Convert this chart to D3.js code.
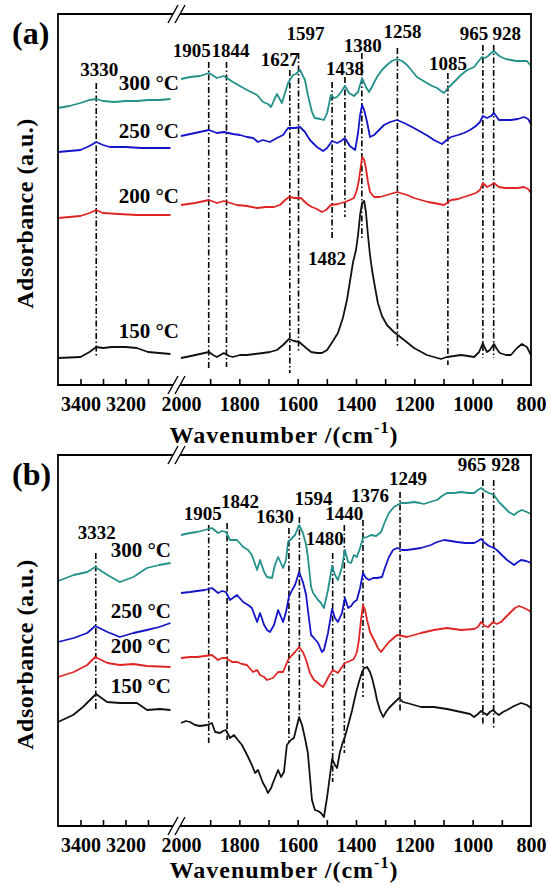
<!DOCTYPE html>
<meta charset="utf-8">
<html>
<head>
<script src="https://cdnjs.cloudflare.com/ajax/libs/d3/7.8.5/d3.min.js"></script>
<style>
    body { margin: 0; background: #fff; }
    svg text { font-family: 'Liberation Serif', 'Times New Roman', serif; font-weight: bold; fill: #000; }
</style>
</head>
<body>
<svg width="548" height="886"></svg>
<script>
// ---- data: [wavenumber, absorbance (a.u.)] ----
const temps = ["300 °C", "250 °C", "200 °C", "150 °C"];
const colors = ["#23908a", "#1414c8", "#e02424", "#111111"];

// panel (a)
const a300L = [[3500,2.77],[3450,2.79],[3400,2.82],[3360,2.85],[3330,2.86],[3300,2.84],[3250,2.83],[3200,2.84],[3150,2.84],[3100,2.85],[3050,2.85],[3000,2.86]];
const a300R = [[2000,3.06],[1969,3.08],[1935,3.09],[1904,3.12],[1877,3.07],[1853,3.09],[1822,3.03],[1798,2.99],[1774,2.95],[1753,2.92],[1739,2.90],[1719,2.83],[1702,2.81],[1691,2.78],[1681,2.85],[1671,2.91],[1654,2.82],[1633,3.02],[1616,3.10],[1606,3.11],[1592,3.15],[1575,3.05],[1565,2.90],[1551,2.73],[1541,2.67],[1523,2.66],[1510,2.65],[1499,2.72],[1486,2.90],[1475,2.87],[1465,2.88],[1451,2.93],[1438,2.99],[1424,2.92],[1407,2.89],[1393,2.93],[1379,3.07],[1366,2.98],[1355,2.93],[1342,3.00],[1328,3.08],[1311,3.15],[1294,3.20],[1277,3.24],[1259,3.26],[1242,3.24],[1225,3.20],[1208,3.14],[1191,3.08],[1174,3.05],[1157,3.02],[1139,2.99],[1122,2.97],[1109,2.94],[1098,2.92],[1085,2.97],[1074,3.00],[1057,3.05],[1040,3.10],[1019,3.15],[995,3.18],[982,3.23],[968,3.28],[958,3.27],[947,3.29],[937,3.32],[927,3.34],[913,3.30],[903,3.28],[886,3.26],[869,3.25],[851,3.24],[834,3.24],[814,3.24],[800,3.19]];
const a250L = [[3500,2.33],[3450,2.34],[3400,2.35],[3360,2.39],[3330,2.43],[3300,2.40],[3270,2.38],[3200,2.38],[3130,2.37],[3050,2.37],[3000,2.37]];
const a250R = [[2000,2.49],[1952,2.52],[1904,2.55],[1877,2.52],[1853,2.53],[1822,2.51],[1798,2.50],[1774,2.48],[1753,2.47],[1736,2.43],[1719,2.45],[1695,2.43],[1671,2.47],[1650,2.50],[1633,2.57],[1609,2.57],[1592,2.58],[1575,2.53],[1558,2.45],[1534,2.38],[1513,2.34],[1499,2.37],[1482,2.44],[1465,2.42],[1451,2.44],[1438,2.47],[1421,2.39],[1403,2.35],[1393,2.52],[1386,2.70],[1379,2.80],[1372,2.75],[1362,2.63],[1352,2.48],[1338,2.50],[1321,2.55],[1304,2.60],[1283,2.63],[1259,2.65],[1235,2.62],[1208,2.58],[1177,2.53],[1153,2.49],[1133,2.45],[1105,2.41],[1085,2.46],[1074,2.48],[1050,2.50],[1030,2.52],[1009,2.55],[989,2.59],[975,2.63],[965,2.69],[951,2.67],[937,2.69],[927,2.72],[910,2.65],[889,2.65],[869,2.65],[845,2.66],[824,2.68],[810,2.66],[800,2.61]];
const a200L = [[3500,1.67],[3400,1.69],[3360,1.72],[3330,1.75],[3300,1.72],[3230,1.71],[3150,1.70],[3000,1.70]];
const a200R = [[2000,1.80],[1952,1.82],[1904,1.85],[1877,1.82],[1853,1.84],[1808,1.80],[1774,1.79],[1739,1.77],[1709,1.78],[1681,1.78],[1661,1.80],[1643,1.85],[1630,1.88],[1609,1.87],[1589,1.87],[1568,1.81],[1551,1.78],[1534,1.76],[1517,1.73],[1503,1.75],[1486,1.80],[1462,1.81],[1438,1.83],[1421,1.85],[1407,1.87],[1397,1.95],[1390,2.05],[1379,2.28],[1372,2.25],[1366,2.17],[1359,2.03],[1352,1.93],[1338,1.88],[1318,1.88],[1294,1.90],[1259,1.93],[1225,1.90],[1201,1.87],[1177,1.85],[1153,1.83],[1133,1.82],[1098,1.80],[1074,1.85],[1050,1.86],[1030,1.88],[1009,1.90],[989,1.92],[975,1.95],[965,2.02],[951,1.98],[937,2.00],[927,2.02],[910,1.98],[889,1.97],[869,1.97],[845,1.97],[824,1.98],[810,1.96],[800,1.92]];
const a150L = [[3500,0.27],[3400,0.28],[3360,0.33],[3330,0.38],[3300,0.37],[3260,0.38],[3200,0.38],[3150,0.37],[3100,0.33],[3050,0.32],[3000,0.31]];
const a150R = [[2000,0.27],[1966,0.29],[1935,0.31],[1904,0.33],[1890,0.30],[1877,0.28],[1853,0.32],[1835,0.29],[1822,0.28],[1798,0.30],[1774,0.30],[1746,0.31],[1719,0.32],[1695,0.33],[1671,0.35],[1650,0.40],[1630,0.46],[1613,0.44],[1595,0.43],[1575,0.38],[1554,0.33],[1534,0.32],[1517,0.32],[1499,0.35],[1479,0.44],[1462,0.52],[1445,0.67],[1431,0.85],[1421,1.03],[1410,1.23],[1400,1.35],[1393,1.50],[1386,1.70],[1379,1.82],[1372,1.84],[1366,1.73],[1359,1.50],[1352,1.30],[1345,1.15],[1335,0.98],[1325,0.82],[1311,0.69],[1294,0.60],[1270,0.53],[1235,0.45],[1201,0.37],[1157,0.30],[1109,0.26],[1088,0.28],[1064,0.29],[1040,0.30],[1016,0.29],[995,0.28],[978,0.33],[965,0.42],[958,0.37],[951,0.33],[941,0.35],[927,0.41],[917,0.36],[907,0.32],[886,0.30],[869,0.30],[848,0.37],[831,0.41],[814,0.38],[800,0.30]];

// panel (b)
const b300L = [[3500,2.45],[3430,2.51],[3370,2.54],[3335,2.59],[3280,2.51],[3225,2.44],[3165,2.49],[3105,2.58],[3050,2.61],[3000,2.63]];
const b300R = [[2000,2.91],[1969,2.93],[1945,2.94],[1918,2.96],[1894,2.98],[1873,2.93],[1859,2.95],[1846,2.94],[1832,2.86],[1808,2.86],[1787,2.79],[1770,2.76],[1757,2.71],[1739,2.56],[1729,2.66],[1715,2.54],[1705,2.49],[1688,2.48],[1678,2.61],[1667,2.69],[1650,2.58],[1640,2.66],[1633,2.84],[1619,2.88],[1609,2.91],[1595,3.01],[1582,2.93],[1571,2.81],[1565,2.69],[1554,2.39],[1547,2.33],[1530,2.26],[1520,2.23],[1510,2.18],[1496,2.36],[1482,2.60],[1472,2.51],[1462,2.46],[1448,2.59],[1438,2.76],[1427,2.64],[1417,2.63],[1407,2.71],[1397,2.69],[1386,2.78],[1376,2.88],[1362,2.89],[1348,2.91],[1331,2.90],[1314,2.94],[1301,3.04],[1287,3.13],[1270,3.19],[1246,3.23],[1225,3.23],[1201,3.24],[1181,3.23],[1167,3.22],[1146,3.24],[1122,3.26],[1105,3.30],[1088,3.33],[1064,3.33],[1040,3.34],[1016,3.33],[995,3.33],[982,3.36],[971,3.38],[958,3.35],[944,3.33],[927,3.31],[910,3.24],[893,3.19],[876,3.14],[858,3.11],[845,3.14],[831,3.16],[814,3.14],[800,3.12]];
const b250L = [[3500,1.84],[3430,1.88],[3370,1.93],[3335,2.00],[3280,1.94],[3225,1.89],[3165,1.93],[3105,1.96],[3050,1.99],[3000,2.03]];
const b250R = [[2000,2.33],[1969,2.34],[1945,2.35],[1918,2.36],[1894,2.38],[1873,2.33],[1859,2.35],[1846,2.34],[1832,2.26],[1808,2.31],[1787,2.24],[1770,2.21],[1757,2.18],[1739,2.04],[1729,2.13],[1715,2.01],[1705,1.96],[1695,1.94],[1681,2.01],[1667,2.16],[1650,2.04],[1640,2.14],[1630,2.29],[1619,2.36],[1609,2.41],[1595,2.54],[1582,2.44],[1571,2.31],[1565,2.16],[1554,1.91],[1547,1.89],[1530,1.83],[1517,1.74],[1510,1.76],[1496,1.93],[1482,2.17],[1472,2.08],[1462,2.04],[1448,2.13],[1438,2.28],[1427,2.18],[1417,2.20],[1407,2.24],[1397,2.26],[1386,2.38],[1376,2.53],[1366,2.48],[1355,2.46],[1342,2.48],[1328,2.48],[1311,2.49],[1301,2.58],[1287,2.69],[1273,2.76],[1259,2.78],[1242,2.76],[1225,2.76],[1201,2.77],[1177,2.78],[1143,2.81],[1122,2.84],[1098,2.86],[1074,2.85],[1054,2.84],[1026,2.83],[995,2.83],[982,2.85],[971,2.87],[958,2.83],[944,2.80],[927,2.78],[917,2.76],[900,2.71],[882,2.66],[858,2.61],[845,2.64],[834,2.66],[817,2.65],[800,2.63]];
const b200L = [[3500,1.49],[3430,1.54],[3370,1.61],[3335,1.69],[3280,1.63],[3225,1.61],[3165,1.62],[3105,1.60],[3000,1.59]];
const b200R = [[2000,1.68],[1969,1.69],[1945,1.69],[1918,1.70],[1894,1.71],[1873,1.66],[1859,1.68],[1846,1.68],[1825,1.64],[1808,1.64],[1791,1.62],[1774,1.61],[1753,1.54],[1739,1.56],[1729,1.51],[1715,1.49],[1705,1.46],[1685,1.48],[1667,1.54],[1650,1.54],[1633,1.66],[1619,1.71],[1609,1.74],[1595,1.79],[1582,1.74],[1571,1.66],[1558,1.53],[1544,1.46],[1534,1.44],[1523,1.41],[1513,1.39],[1503,1.44],[1493,1.50],[1479,1.56],[1462,1.53],[1448,1.59],[1438,1.63],[1421,1.65],[1407,1.67],[1397,1.74],[1390,1.86],[1383,2.06],[1376,2.21],[1369,2.16],[1362,2.06],[1352,1.94],[1338,1.86],[1325,1.78],[1314,1.74],[1301,1.79],[1287,1.84],[1259,1.91],[1225,1.89],[1201,1.91],[1177,1.93],[1133,1.96],[1088,1.98],[1040,1.96],[995,1.97],[982,1.99],[971,2.04],[958,2.00],[947,1.99],[930,2.04],[917,2.02],[903,2.04],[886,2.09],[869,2.14],[855,2.18],[841,2.20],[824,2.18],[810,2.16],[800,2.14]];
const b150L = [[3500,1.04],[3433,1.11],[3389,1.19],[3331,1.32],[3282,1.24],[3224,1.23],[3149,1.23],[3104,1.16],[3047,1.17],[3000,1.16]];
const b150R = [[2000,1.03],[1983,1.05],[1969,1.04],[1952,1.01],[1935,1.00],[1911,1.01],[1894,1.03],[1883,0.94],[1866,0.93],[1856,0.95],[1846,0.96],[1832,0.88],[1818,0.91],[1805,0.86],[1791,0.81],[1770,0.69],[1757,0.61],[1746,0.53],[1736,0.56],[1719,0.43],[1709,0.38],[1702,0.33],[1691,0.38],[1685,0.43],[1667,0.56],[1657,0.49],[1647,0.54],[1637,0.81],[1623,0.86],[1613,0.88],[1595,1.09],[1585,1.01],[1575,0.88],[1565,0.73],[1551,0.26],[1541,0.16],[1530,0.15],[1520,0.13],[1510,0.09],[1499,0.29],[1489,0.51],[1482,0.67],[1472,0.61],[1465,0.58],[1455,0.74],[1445,0.84],[1438,0.89],[1424,1.04],[1414,1.15],[1400,1.33],[1390,1.44],[1379,1.54],[1372,1.58],[1362,1.59],[1352,1.54],[1345,1.48],[1335,1.36],[1328,1.26],[1318,1.16],[1307,1.09],[1297,1.14],[1287,1.18],[1270,1.23],[1252,1.28],[1239,1.24],[1225,1.23],[1201,1.21],[1177,1.19],[1133,1.19],[1088,1.17],[1040,1.14],[1009,1.12],[995,1.09],[982,1.12],[971,1.15],[961,1.13],[951,1.11],[941,1.14],[930,1.16],[920,1.13],[910,1.11],[896,1.14],[882,1.16],[858,1.20],[834,1.23],[814,1.21],[800,1.18]];

// peak markers: wavenumber, line top / bottom (a.u.)
const peakWnA = [3330, 1905, 1844, 1627, 1597, 1482, 1438, 1380, 1258, 1085, 965, 928];
const peakTopA = [3.02, 3.23, 3.23, 3.15, 3.32, 3.03, 3.08, 3.32, 3.37, 3.12, 3.40, 3.40];
const peakBotA = [0.27, 0.15, 0.18, 0.12, 0.33, 1.45, 1.68, 1.45, 0.38, 0.20, 0.27, 0.27];
const peakWnB = [3332, 1905, 1842, 1630, 1594, 1480, 1440, 1376, 1249, 965, 928];
const peakTopB = [2.73, 3.01, 3.03, 2.98, 3.09, 2.73, 3.01, 3.06, 3.34, 3.46, 3.46];
const peakBotB = [1.16, 0.83, 0.86, 0.84, 1.09, 0.44, 0.73, 1.29, 1.13, 1.01, 0.98];

// axis ticks
const leftTicks = [3400, 3300, 3200, 3100];
const leftLabels = [3400, 3200];
const rightTicks = [1900, 1800, 1700, 1600, 1500, 1400, 1300, 1200, 1100, 1000, 900];
const rightLabels = [2000, 1800, 1600, 1400, 1200, 1000, 800];

// ---- layout ----
// peak label placement: [dx px from line, baseline in a.u.]
const labelPosA = [[3, 3.09], [-17, 3.28], [4, 3.28], [-10, 3.19], [7, 3.45], [-5, 1.20], [0, 3.10], [1, 3.33], [5, 3.47], [0, 3.15], [-9, 3.45], [13, 3.45]];
const labelPosB = [[1, 2.87], [-6, 3.06], [13, 3.18], [-14, 3.03], [14, 3.21], [-8, 2.81], [0, 3.06], [7, 3.24], [8, 3.41], [-11, 3.55], [12, 3.55]];
const tempPosA = [2.95, 2.47, 1.82, 0.47];
const tempPosB = [2.69, 2.08, 1.73, 1.33];

const panels = [
    { name: "(a)", top: 14, bottom: 385, tempX: 179, titleDy: 58,
      series: [a300L, a300R, a250L, a250R, a200L, a200R, a150L, a150R],
      wn: peakWnA, pTop: peakTopA, pBot: peakBotA, lab: labelPosA, tpos: tempPosA },
    { name: "(b)", top: 455, bottom: 826, tempX: 171, titleDy: 52,
      series: [b300L, b300R, b250L, b250R, b200L, b200R, b150L, b150R],
      wn: peakWnB, pTop: peakTopB, pBot: peakBotB, lab: labelPosB, tpos: tempPosB }
];

const svg = d3.select("svg");
const xL = 58, xR = 531;
const xLeft = d3.scaleLinear().domain([3500, 3000]).range([58, 170.5]);
const xRight = d3.scaleLinear().domain([2000, 800]).range([181, 531]);
const xOf = w => (w > 2500 ? xLeft(w) : xRight(w));
const breakAt = [173, 180];

panels.forEach(p => {
    const g = svg.append("g");
    const y = d3.scaleLinear().domain([0, 3.71]).range([p.bottom, p.top]);

    // dash-dot peak markers
    g.selectAll(".peak").data(p.wn).join("line")
        .attr("x1", d => xOf(d)).attr("x2", d => xOf(d))
        .attr("y1", (d, i) => y(p.pTop[i])).attr("y2", (d, i) => y(p.pBot[i]))
        .attr("stroke", "#000").attr("stroke-width", 1.6)
        .attr("stroke-dasharray", "6,2.5,1.5,2.5");

    g.selectAll(".plabel").data(p.wn).join("text")
        .attr("x", (d, i) => xOf(d) + p.lab[i][0])
        .attr("y", (d, i) => y(p.lab[i][1]))
        .attr("text-anchor", "middle")
        .style("font-size", "19px")
        .text(d => d);

    // spectra
    p.series.forEach((s, i) => {
        const sc = i % 2 === 0 ? xLeft : xRight;
        g.append("path")
            .datum(s)
            .attr("fill", "none")
            .attr("stroke", colors[Math.floor(i / 2)])
            .attr("stroke-width", 1.8)
            .attr("stroke-linejoin", "round")
            .attr("d", d3.line().x(d => sc(d[0])).y(d => y(d[1])));
    });

    // temperature labels
    g.selectAll(".temp").data(temps).join("text")
        .attr("x", p.tempX)
        .attr("y", (d, i) => y(p.tpos[i]))
        .attr("text-anchor", "end")
        .style("font-size", "21px")
        .text(d => d);

    // frame with axis break
    const frame = g.append("g").attr("stroke", "#000").attr("stroke-width", 1.8).attr("fill", "none");
    frame.append("line").attr("x1", xL).attr("x2", xL).attr("y1", p.top).attr("y2", p.bottom);
    frame.append("line").attr("x1", xR).attr("x2", xR).attr("y1", p.top).attr("y2", p.bottom);
    [p.top, p.bottom].forEach(yy => {
        frame.append("line").attr("x1", xL - 0.9).attr("x2", breakAt[0]).attr("y1", yy).attr("y2", yy);
        frame.append("line").attr("x1", breakAt[1]).attr("x2", xR + 0.9).attr("y1", yy).attr("y2", yy);
        breakAt.forEach(m => {
            frame.append("line").attr("stroke-width", 1.4)
                .attr("x1", m - 5).attr("y1", yy + 9).attr("x2", m + 5).attr("y2", yy - 9);
        });
    });

    // ticks (inward) and tick labels
    const clean = sel => sel.select(".domain").remove();
    g.append("g").attr("transform", `translate(0,${p.bottom})`)
        .call(d3.axisBottom(xLeft).tickValues(leftTicks).tickSize(-6).tickFormat("")).call(clean);
    g.append("g").attr("transform", `translate(0,${p.bottom})`)
        .call(d3.axisBottom(xRight).tickValues(rightTicks).tickSize(-6).tickFormat("")).call(clean);
    g.selectAll(".tick line").attr("stroke-width", 1.6);
    [[xLeft, leftLabels], [xRight, rightLabels]].forEach(([sc, vals]) => {
        const ax = g.append("g").attr("transform", `translate(0,${p.bottom})`)
            .call(d3.axisBottom(sc).tickValues(vals).tickSize(0).tickPadding(12).tickFormat(d3.format("d")))
            .call(clean);
        ax.attr("font-family", null).attr("font-size", null);
        ax.selectAll("text").style("font-size", "20px");
    });

    // axis titles
    const t = g.append("text")
        .attr("x", 284).attr("y", p.bottom + p.titleDy)
        .attr("text-anchor", "middle")
        .style("font-size", "24px").style("letter-spacing", "1px");
    t.append("tspan").text("Wavenumber  /(cm");
    t.append("tspan").attr("dy", -10).style("font-size", "16px").text("-1");
    t.append("tspan").attr("dy", 10).text(")");

    g.append("text")
        .attr("transform", `translate(33,${(p.top + p.bottom) / 2 + 14}) rotate(-90)`)
        .attr("text-anchor", "middle")
        .style("font-size", "24px").style("letter-spacing", "0.5px")
        .text("Adsorbance (a.u.)");

    g.append("text")
        .attr("x", 12).attr("y", p.top + 30)
        .style("font-size", "32px")
        .text(p.name);
});
</script>
</body>
</html>
